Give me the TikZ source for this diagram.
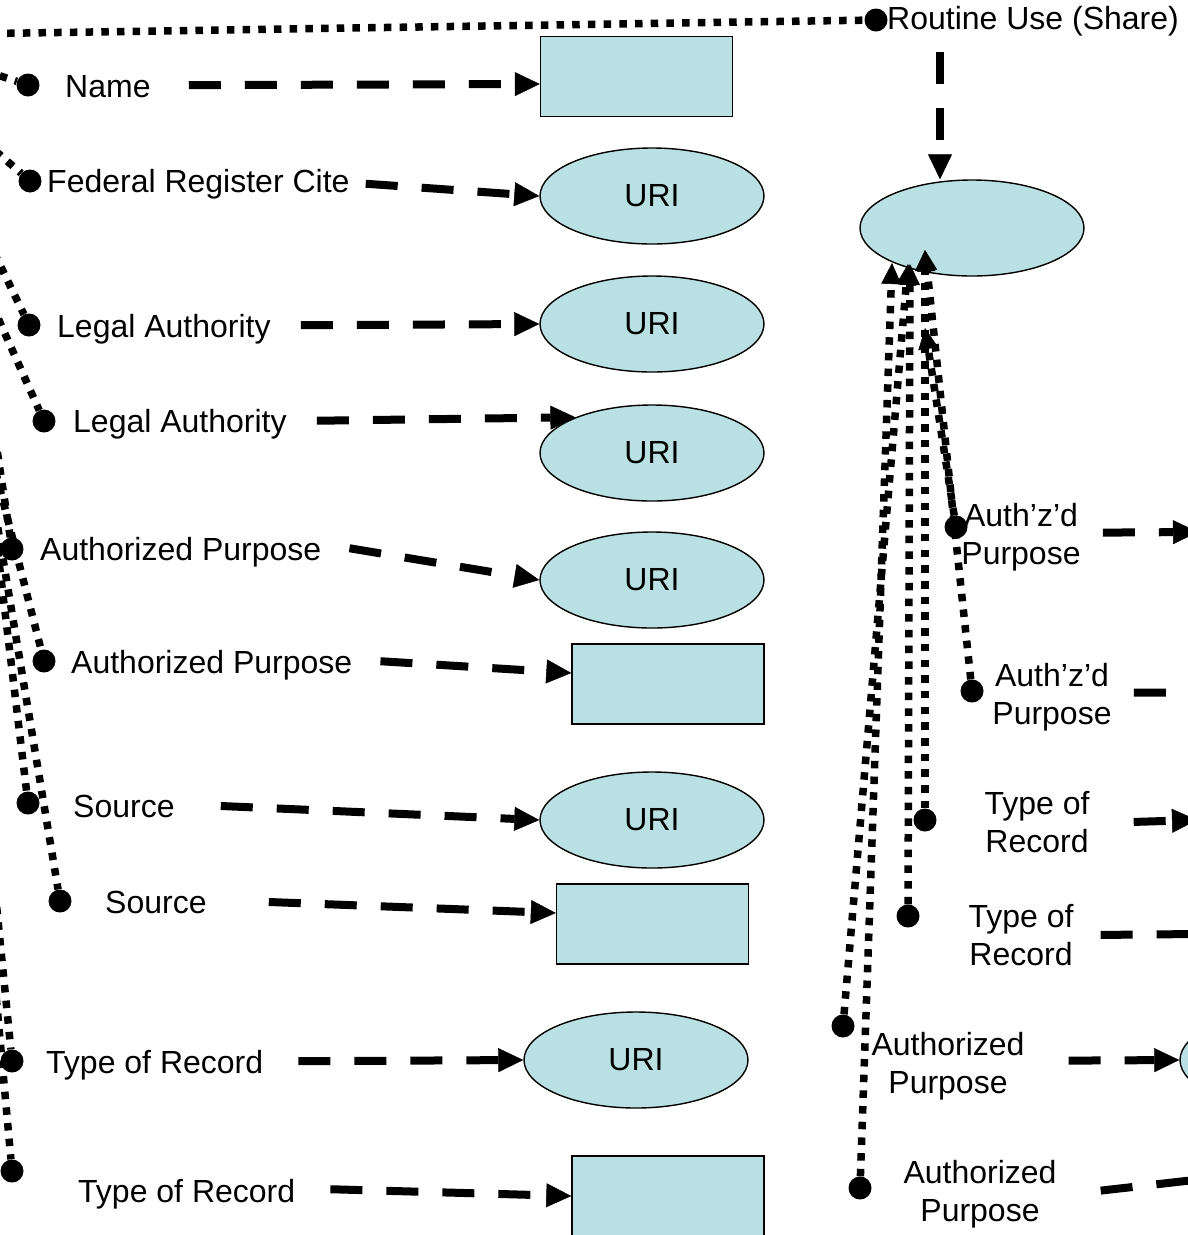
\documentclass[tikz,border=0pt]{standalone}
\usepackage{fontspec}
\setmainfont{Liberation Sans}
\usetikzlibrary{arrows.meta,shapes.geometric,calc}
\definecolor{ublue}{RGB}{185,224,227}
\begin{document}
\begin{tikzpicture}[x=1pt,y=-1pt,
  every node/.style={font=\fontsize{32}{38}\selectfont},
  uri/.style={ellipse,draw,fill=ublue,line width=1.4pt,minimum width=224pt,minimum height=96pt,inner sep=0pt},
  lit/.style={rectangle,draw,fill=ublue,line width=1.4pt,minimum width=192pt,minimum height=80pt,inner sep=0pt},
  dotn/.style={circle,fill=black,minimum size=23pt,inner sep=0pt},
  lab/.style={anchor=base west,inner sep=0pt},
  labtwo/.style={anchor=north,align=center,inner sep=0pt},
  val/.style={line width=8pt,dash pattern=on 32pt off 24pt,-{Triangle[length=25pt,width=24pt,line width=0.5pt]}},
  rel/.style={line width=7.5pt,dash pattern=on 7.5pt off 8.2pt},
  relarr/.style={rel,-{Triangle[length=21pt,width=20pt,line width=0.5pt]}},
]
\useasboundingbox (0,0) rectangle (1188,1235);
\clip (0,0) rectangle (1188,1235);

% ---------- top: Routine Use ----------
\node[dotn] (rud) at (876,20) {};
\node[lab] (rul) at (887,29) {Routine Use (Share)};
\coordinate (s0) at (-40,34);
\draw[rel] (s0) -- (rud);
\node[uri] (ru) at (972,228) {};
\coordinate (rus) at (940,52);
\draw[val] (rus) -- (rus |- ru.north);

% ---------- left column ----------
\node[dotn] (d1) at (28,85) {};
\node[lab] (l1) at (65,97) {Name};
\node[lit] (v1) at (636.5,76.5) {};
\draw[val] ([xshift=38pt,yshift=1pt]l1.east) -- ([yshift=-7.5pt]v1.west);

\node[dotn] (d2) at (30,181) {};
\node[lab] (l2) at (47,192) {Federal Register Cite};
\node[uri] (v2) at (652,196) {URI};
\draw[val] ([xshift=16pt]l2.east) -- (v2.west);

\node[dotn] (d3) at (29,325) {};
\node[lab] (l3) at (57,337) {Legal Authority};
\node[uri] (v3) at (652,324) {URI};
\draw[val] ([xshift=30pt,yshift=3.5pt]l3.east) -- (v3.west);

\node[dotn] (d4) at (44,421) {};
\node[lab] (l4) at (73,432) {Legal Authority};
\node[uri] (v4) at (652,453) {URI};
\draw[val] ([xshift=30pt,yshift=3pt]l4.east) -- (v4.155.6);

\node[dotn] (d5) at (12,549) {};
\node[lab] (l5) at (40,560) {Authorized Purpose};
\node[uri] (v5) at (652,580) {URI};
\draw[val] ([xshift=28pt,yshift=3.5pt]l5.east) -- (v5.west);

\node[dotn] (d6) at (44,661) {};
\node[lab] (l6) at (71,673) {Authorized Purpose};
\node[lit] (v6) at (668,684) {};
\draw[val] ([xshift=28pt,yshift=3.5pt]l6.east) -- ([yshift=11pt]v6.west);

\node[dotn] (d7) at (28,803) {};
\node[lab] (l7) at (73,817) {Source};
\node[uri] (v7) at (652,820) {URI};
\draw[val] ([xshift=46pt]l7.east) -- (v7.west);

\node[dotn] (d8) at (60,901) {};
\node[lab] (l8) at (105,913) {Source};
\node[lit] (v8) at (652.5,924) {};
\draw[val] ([xshift=62pt]l8.east) -- ([yshift=11pt]v8.west);

\node[dotn] (d9) at (12,1061) {};
\node[lab] (l9) at (46,1073) {Type of Record};
\node[uri] (v9) at (636,1060) {URI};
\draw[val] ([xshift=35pt,yshift=3.5pt]l9.east) -- (v9.west);

\node[dotn] (d10) at (12,1171) {};
\node[lab] (l10) at (78,1202) {Type of Record};
\node[lit] (v10) at (668,1196) {};
\draw[val] ([xshift=35pt,yshift=4.5pt]l10.east) -- (v10.west);

% dotted relations entering from the left
\coordinate (a1) at (-30,66);
\coordinate (a2) at (-40,120);
\coordinate (a3) at (-40,182);
\coordinate (a4) at (-40,233);
\coordinate (a5) at (-12,390);
\coordinate (a6) at (-20,411);
\coordinate (a7) at (-10,487);
\coordinate (a8) at (-10,481);
\coordinate (a9) at (-8,860);
\coordinate (a10) at (-8,951);
\draw[rel] (a1) -- (d1);
\draw[rel] (a2) -- (d2);
\draw[rel] (a3) -- (d3);
\draw[rel] (a4) -- (d4);
\draw[rel] (a5) -- (d5);
\draw[rel] (a6) -- (d6);
\draw[rel] (a7) -- (d7);
\draw[rel] (a8) -- (d8);
\draw[rel] (a9) -- (d9);
\draw[rel] (a10) -- (d10);

% ---------- right column ----------
\node[dotn] (e1) at (956,527) {};
\node[labtwo] (r1) at (1021,503) {Auth’z’d\\Purpose};
\node[dotn] (e2) at (972,691) {};
\node[labtwo] (r2) at (1052,663) {Auth’z’d\\Purpose};
\node[dotn] (e3) at (925,820) {};
\node[labtwo] (r3) at (1037,791) {Type of\\Record};
\node[dotn] (e4) at (908,916) {};
\node[labtwo] (r4) at (1021,904) {Type of\\Record};
\node[dotn] (e5) at (843,1026) {};
\node[labtwo] (r5) at (948,1032) {Authorized\\Purpose};
\node[dotn] (e6) at (860,1188) {};
\node[labtwo] (r6) at (980,1160) {Authorized\\Purpose};

\coordinate (t1) at (908,264);
\coordinate (t2) at (892,263);
\coordinate (t3) at (910,264);
\coordinate (t4) at (925,250);
\coordinate (t5) at (925,328);
\coordinate (t6) at (925,250);
\draw[relarr] (e5) -- (t1);
\draw[relarr] (e6) -- (t2);
\draw[relarr] (e4) -- (t3);
\draw[relarr] (e3) -- (t4);
\draw[relarr] (e1) -- (t5);
\draw[relarr] (e2) -- (t6);

\coordinate (o1) at (1198,532);
\coordinate (o2) at (1300,692);
\coordinate (o3) at (1197,820);
\coordinate (o4) at (1300,933);
\node[uri] (v11) at (1292,1060) {};
\coordinate (o6) at (1300,1168);
\draw[val] ([xshift=22pt,yshift=4.5pt]r1.east) -- (o1);
\draw[val] ([xshift=22pt,yshift=4.5pt]r2.east) -- (o2);
\draw[val] ([xshift=44pt]r3.east) -- (o3);
\draw[val] ([xshift=27pt]r4.east) -- (o4);
\draw[val] ([xshift=44pt,yshift=5.5pt]r5.east) -- (v11.west);
\draw[val] ([xshift=44pt,yshift=3.5pt]r6.east) -- (o6);
\end{tikzpicture}
\end{document}
